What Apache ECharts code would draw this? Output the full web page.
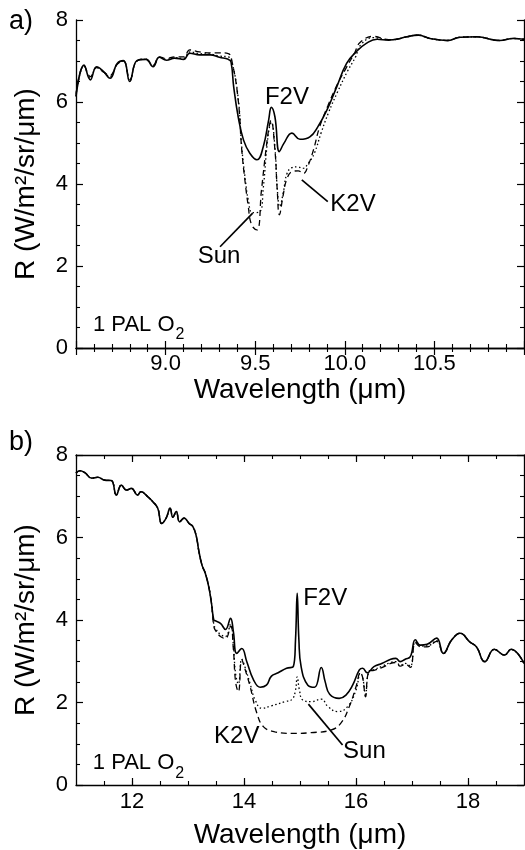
<!DOCTYPE html>
<html><head><meta charset="utf-8">
<script src="https://cdn.jsdelivr.net/npm/echarts@6/dist/echarts.min.js"></script>
<style>html,body{margin:0;padding:0;background:#fff}#c{width:525px;height:850px}</style>
</head><body><div id="c"></div>
<script>
// ---------- Panel a (9.6 um O3/O2 region) ----------
const aWaveF2V = [8.50,8.545,8.58,8.615,8.65,8.69,8.73,8.765,8.80,8.84,8.89,8.93,8.965,9.005,9.05,9.10,9.135,9.19,9.25,9.30,9.35,9.365,9.38,9.405,9.435,9.47,9.51,9.545,9.575,9.59,9.61,9.635,9.66,9.705,9.75,9.805,9.85,9.90,9.955,10.01,10.065,10.12,10.18,10.245,10.29,10.345,10.41,10.475,10.57,10.645,10.735,10.865,10.94,11.0];
const aRF2V    = [6.13,6.90,6.54,6.86,6.76,6.58,6.94,7.01,6.50,7.01,7.04,6.86,7.09,7.02,7.07,7.04,7.19,7.15,7.15,7.09,7.04,6.98,6.37,5.64,5.07,4.75,4.59,4.91,5.56,5.87,5.64,4.79,4.99,5.24,5.09,5.15,5.40,5.80,6.37,6.94,7.23,7.43,7.53,7.51,7.53,7.59,7.63,7.55,7.50,7.58,7.59,7.50,7.55,7.53];

const aWaveK2V = [8.50,8.545,8.58,8.615,8.65,8.69,8.73,8.765,8.80,8.84,8.89,8.93,8.965,9.005,9.05,9.10,9.135,9.19,9.25,9.30,9.35,9.37,9.405,9.425,9.445,9.46,9.48,9.51,9.535,9.56,9.578,9.588,9.61,9.623,9.635,9.655,9.675,9.705,9.74,9.77,9.795,9.825,9.86,9.905,9.955,10.01,10.055,10.085,10.16,10.245,10.29,10.345,10.41,10.475,10.57,10.645,10.735,10.865,10.94,11.0];
const aRK2V    = [6.20,6.88,6.62,6.84,6.74,6.65,6.92,7.00,6.55,7.00,7.05,6.90,7.10,7.06,7.10,7.10,7.27,7.22,7.20,7.20,7.18,7.00,6.05,4.83,4.00,3.50,3.00,2.88,3.85,4.83,5.40,5.55,4.83,3.85,3.25,3.70,4.10,4.30,4.32,4.26,4.45,4.83,5.40,5.90,6.40,6.85,7.20,7.45,7.60,7.52,7.53,7.59,7.63,7.55,7.50,7.58,7.59,7.50,7.55,7.53];

const aWaveSun = [8.50,8.545,8.58,8.615,8.65,8.69,8.73,8.765,8.80,8.84,8.89,8.93,8.965,9.005,9.05,9.10,9.135,9.19,9.25,9.30,9.35,9.37,9.405,9.425,9.445,9.462,9.485,9.525,9.545,9.565,9.58,9.59,9.61,9.623,9.637,9.657,9.677,9.705,9.735,9.765,9.795,9.83,9.868,9.91,9.96,10.015,10.06,10.09,10.16,10.245,10.29,10.345,10.41,10.475,10.57,10.645,10.735,10.865,10.94,11.0];
const aRSun    = [6.15,6.88,6.58,6.85,6.75,6.62,6.93,7.00,6.52,7.00,7.04,6.88,7.09,7.04,7.08,7.06,7.22,7.18,7.17,7.12,7.10,6.98,6.10,4.90,4.10,3.60,3.30,3.32,3.90,4.90,5.40,5.50,4.90,3.90,3.45,3.80,4.25,4.40,4.42,4.38,4.50,4.75,5.25,5.75,6.25,6.75,7.10,7.40,7.57,7.52,7.53,7.59,7.63,7.55,7.50,7.58,7.59,7.50,7.55,7.53];

// ---------- Panel b (15 um CO2 region) ----------
const bWaveF2V = [11.0,11.07,11.16,11.28,11.39,11.51,11.63,11.72,11.81,11.90,11.99,12.10,12.16,12.28,12.37,12.46,12.53,12.61,12.68,12.73,12.79,12.85,12.93,13.02,13.09,13.15,13.19,13.25,13.31,13.37,13.42,13.46,13.49,13.58,13.67,13.76,13.81,13.87,13.96,14.05,14.17,14.29,14.40,14.49,14.61,14.76,14.88,14.92,14.95,14.98,15.02,15.14,15.26,15.38,15.45,15.53,15.70,15.82,15.94,16.06,16.12,16.20,16.32,16.47,16.62,16.71,16.79,16.88,16.97,17.06,17.15,17.27,17.44,17.56,17.71,17.86,18.03,18.15,18.30,18.47,18.65,18.77,19.0];
const bRF2V    = [7.56,7.62,7.57,7.44,7.46,7.39,7.38,7.03,7.27,7.15,7.19,7.03,7.11,6.99,6.87,6.71,6.34,6.47,6.71,6.49,6.63,6.38,6.47,6.34,6.26,6.02,5.70,5.33,5.13,4.81,4.40,4.00,3.98,3.92,3.77,4.04,3.72,3.19,3.31,2.99,2.55,2.37,2.42,2.64,2.72,2.83,2.87,3.52,4.65,3.52,2.87,2.42,2.37,2.85,2.50,2.20,2.10,2.18,2.42,2.79,2.83,2.72,2.87,2.95,3.05,3.07,2.99,3.05,3.11,3.52,3.39,3.41,3.56,3.19,3.52,3.68,3.47,3.35,2.99,3.29,3.15,3.29,2.95];

const bWaveK2V = [11.0,11.07,11.16,11.28,11.39,11.51,11.63,11.72,11.81,11.90,11.99,12.10,12.16,12.28,12.37,12.46,12.53,12.61,12.68,12.73,12.79,12.85,12.93,13.02,13.09,13.15,13.19,13.25,13.31,13.37,13.42,13.46,13.49,13.58,13.67,13.76,13.81,13.85,13.90,13.96,14.02,14.11,14.23,14.35,14.55,14.85,15.20,15.55,15.73,15.88,16.00,16.08,16.12,16.17,16.23,16.32,16.47,16.62,16.71,16.79,16.88,16.97,17.06,17.15,17.27,17.44,17.56,17.71,17.86,18.03,18.15,18.30,18.47,18.65,18.77,19.0];
const bRK2V    = [7.56,7.62,7.57,7.44,7.46,7.39,7.38,7.03,7.27,7.15,7.19,7.03,7.11,6.99,6.87,6.71,6.34,6.47,6.71,6.49,6.63,6.38,6.47,6.34,6.26,6.02,5.70,5.33,5.13,4.81,4.40,3.85,3.75,3.60,3.55,3.85,3.30,2.50,2.26,3.03,2.80,2.38,1.74,1.41,1.29,1.25,1.27,1.33,1.50,1.90,2.38,2.72,2.60,2.14,2.75,2.78,2.85,2.95,2.97,2.88,2.93,2.85,3.45,3.35,3.35,3.48,3.19,3.52,3.68,3.47,3.35,2.99,3.29,3.15,3.29,2.95];

const bWaveSun = [11.0,11.07,11.16,11.28,11.39,11.51,11.63,11.72,11.81,11.90,11.99,12.10,12.16,12.28,12.37,12.46,12.53,12.61,12.68,12.73,12.79,12.85,12.93,13.02,13.09,13.15,13.19,13.25,13.31,13.37,13.42,13.46,13.49,13.58,13.67,13.76,13.81,13.85,13.90,13.96,14.02,14.11,14.20,14.32,14.49,14.73,14.86,14.92,14.95,14.99,15.05,15.20,15.38,15.50,15.67,15.85,16.00,16.08,16.12,16.17,16.23,16.32,16.47,16.62,16.71,16.79,16.88,16.97,17.06,17.15,17.27,17.44,17.56,17.71,17.86,18.03,18.15,18.30,18.47,18.65,18.77,19.0];
const bRSun    = [7.56,7.62,7.57,7.44,7.46,7.39,7.38,7.03,7.27,7.15,7.19,7.03,7.11,6.99,6.87,6.71,6.34,6.47,6.71,6.49,6.63,6.38,6.47,6.34,6.26,6.02,5.70,5.33,5.13,4.81,4.40,3.90,3.80,3.65,3.60,3.90,3.40,2.70,2.45,3.05,2.85,2.45,2.06,1.86,1.92,2.02,2.08,2.30,2.62,2.30,2.06,2.02,2.08,1.90,1.78,1.90,2.30,2.72,2.60,2.20,2.75,2.80,2.88,2.97,2.99,2.90,2.95,2.88,3.47,3.37,3.37,3.50,3.19,3.52,3.68,3.47,3.35,2.99,3.29,3.15,3.29,2.95];

// tick labels
const aXTicks = ['9.0','9.5','10.0','10.5'];
const bXTicks = [12,14,16,18];
const yTicks = [0,2,4,6,8];

const FONT = '"Liberation Sans", Arial, Helvetica, sans-serif';
const zip = (xs, ys) => xs.map((x, i) => [x, ys[i]]);

const chart = echarts.init(document.getElementById('c'), null, {renderer: 'canvas'});

const black = '#000';
const lineAx = {show: true, lineStyle: {color: black, width: 1.3}};

function baseX(grid, min, max, interval, pos, opts) {
  return Object.assign({
    type: 'value', gridIndex: grid, min: min, max: max, interval: interval, position: pos,
    axisLine: lineAx, splitLine: {show: false},
    axisTick: {show: true, inside: true, length: 7, lineStyle: {color: black, width: 1.2}},
    axisLabel: {show: false}
  }, opts || {});
}
function baseY(grid, pos, opts) {
  return Object.assign({
    type: 'value', gridIndex: grid, min: 0, max: 8, interval: 2, position: pos,
    axisLine: lineAx, splitLine: {show: false},
    axisTick: {show: true, inside: true, length: 7, lineStyle: {color: black, width: 1.2}},
    minorTick: {show: true, splitNumber: 4, length: 4, lineStyle: {color: black, width: 1.1}},
    axisLabel: {show: false}
  }, opts || {});
}

const tickLabel = {show: true, color: black, fontSize: 22, fontFamily: FONT, margin: 6};
const nameStyle = {color: black, fontSize: 28, fontFamily: FONT};

const xAxes = [
  // panel a bottom
  baseX(0, 8.5, 11, 0.5, 'bottom', {
    minorTick: {show: true, splitNumber: 5, length: 4, lineStyle: {color: black, width: 1.1}},
    axisLabel: Object.assign({}, tickLabel, {margin: 5, showMinLabel: false, showMaxLabel: false,
      formatter: v => { const s = v.toFixed(1); return aXTicks.indexOf(s) >= 0 ? s : ''; }}),
    name: 'Wavelength (\u03bcm)', nameLocation: 'middle', nameGap: 23, nameTextStyle: nameStyle
  }),
  // panel a top mirror
  baseX(0, 8.5, 11, 0.5, 'top', {
    minorTick: {show: true, splitNumber: 5, length: 4, lineStyle: {color: black, width: 1.1}}
  }),
  // panel b bottom (minor ticks + labels)
  baseX(1, 11, 19, 0.5, 'bottom', {
    axisTick: {show: true, inside: true, length: 4, lineStyle: {color: black, width: 1.1}},
    axisLabel: Object.assign({}, tickLabel, {showMinLabel: false, showMaxLabel: false,
      formatter: v => bXTicks.indexOf(v) >= 0 ? String(v) : ''}),
    name: 'Wavelength (\u03bcm)', nameLocation: 'middle', nameGap: 36, nameTextStyle: nameStyle
  }),
  // panel b bottom major ticks
  baseX(1, 11, 19, 0.5, 'bottom', {
    axisLine: {show: false},
    axisTick: {show: true, inside: true, length: 7, customValues: bXTicks, lineStyle: {color: black, width: 1.2}}
  }),
  // panel b top mirror minor
  baseX(1, 11, 19, 0.5, 'top', {
    axisTick: {show: true, inside: true, length: 4, lineStyle: {color: black, width: 1.1}}
  }),
  // panel b top mirror major
  baseX(1, 11, 19, 0.5, 'top', {
    axisLine: {show: false},
    axisTick: {show: true, inside: true, length: 7, customValues: bXTicks, lineStyle: {color: black, width: 1.2}}
  })
];

const yName = 'R (W/m\u00b2/sr/\u03bcm)';
const yAxes = [
  baseY(0, 'left', {axisLabel: Object.assign({}, tickLabel, {margin: 8, formatter: v => yTicks.indexOf(v) >= 0 ? String(v) : ''}),
    name: yName, nameLocation: 'middle', nameGap: 36, nameTextStyle: nameStyle}),
  baseY(0, 'right'),
  baseY(1, 'left', {axisLabel: Object.assign({}, tickLabel, {margin: 8, formatter: v => yTicks.indexOf(v) >= 0 ? String(v) : ''}),
    name: yName, nameLocation: 'middle', nameGap: 36, nameTextStyle: nameStyle}),
  baseY(1, 'right')
];

function ser(name, xs, ys, xi, yi, style, z) {
  return {
    type: 'line', name: name, xAxisIndex: xi, yAxisIndex: yi, data: zip(xs, ys),
    showSymbol: false, symbol: 'none', smooth: 0.45,
    lineStyle: Object.assign({color: black}, style), z: z, animation: false, silent: true
  };
}
const solid = {width: 1.6, type: 'solid'};
const dashed = {width: 1.3, type: [6, 4]};
const dotted = {width: 1.3, type: [1.5, 2.5]};

chart.setOption({
  animation: false,
  backgroundColor: '#fff',
  textStyle: {fontFamily: FONT},
  grid: [
    {left: 76, top: 20, width: 448, height: 328, containLabel: false},
    {left: 76, top: 455, width: 448, height: 330, containLabel: false}
  ],
  xAxis: xAxes,
  yAxis: yAxes,
  series: [
    ser('Sun', aWaveSun, aRSun, 0, 0, dotted, 2),
    ser('K2V', aWaveK2V, aRK2V, 0, 0, dashed, 3),
    ser('F2V', aWaveF2V, aRF2V, 0, 0, solid, 4),
    ser('Sun', bWaveSun, bRSun, 2, 2, dotted, 2),
    ser('K2V', bWaveK2V, bRK2V, 2, 2, dashed, 3),
    ser('F2V', bWaveF2V, bRF2V, 2, 2, solid, 4)
  ]
});

// ---------- annotations (placed in data coordinates) ----------
const P = (g, x, y) => chart.convertToPixel({gridIndex: g}, [x, y]);
const canvas = document.createElement('canvas').getContext('2d');
function textW(t, size) { canvas.font = size + 'px ' + FONT; return canvas.measureText(t).width; }

const labels = [
  {g: 0, t: 'F2V', x: 9.677, y: 6.12},
  {g: 0, t: 'K2V', x: 10.046, y: 3.51},
  {g: 0, t: 'Sun', x: 9.298, y: 2.24},
  {g: 1, t: 'F2V', x: 15.45, y: 4.53},
  {g: 1, t: 'K2V', x: 13.87, y: 1.19},
  {g: 1, t: 'Sun', x: 16.15, y: 0.82}
];
const pointers = [
  {g: 0, a: [9.76, 4.10], b: [9.905, 3.57]},
  {g: 0, a: [9.304, 2.47], b: [9.486, 3.29]},
  {g: 1, a: [15.15, 1.96], b: [15.76, 0.97]}
];
const pal = [
  {g: 0, x: 8.595, y: 0.56},
  {g: 1, x: 11.30, y: 0.53}
];

const graphics = [];
labels.forEach(l => {
  const p = P(l.g, l.x, l.y);
  graphics.push({type: 'text', silent: true, z: 10, style: {text: l.t, x: p[0], y: p[1], fill: black,
    font: '24px ' + FONT, textAlign: 'center', textVerticalAlign: 'middle'}});
});
pointers.forEach(q => {
  const a = P(q.g, q.a[0], q.a[1]), b = P(q.g, q.b[0], q.b[1]);
  graphics.push({type: 'line', silent: true, z: 10, shape: {x1: a[0], y1: a[1], x2: b[0], y2: b[1]},
    style: {stroke: black, lineWidth: 1.7}});
});
pal.forEach(q => {
  const p = P(q.g, q.x, q.y);
  const main = '1 PAL O';
  graphics.push({type: 'text', silent: true, z: 10, style: {text: main, x: p[0], y: p[1], fill: black,
    font: '22px ' + FONT, textAlign: 'left', textVerticalAlign: 'middle'}});
  graphics.push({type: 'text', silent: true, z: 10, style: {text: '2', x: p[0] + textW(main, 22) + 1, y: p[1] + 10, fill: black,
    font: '16px ' + FONT, textAlign: 'left', textVerticalAlign: 'middle'}});
});
graphics.push({type: 'text', silent: true, style: {text: 'a)', x: 9, y: 22, fill: black, font: '27px ' + FONT, textAlign: 'left', textVerticalAlign: 'middle'}});
graphics.push({type: 'text', silent: true, style: {text: 'b)', x: 9, y: 443, fill: black, font: '27px ' + FONT, textAlign: 'left', textVerticalAlign: 'middle'}});

chart.setOption({graphic: graphics});
</script>
</body></html>
